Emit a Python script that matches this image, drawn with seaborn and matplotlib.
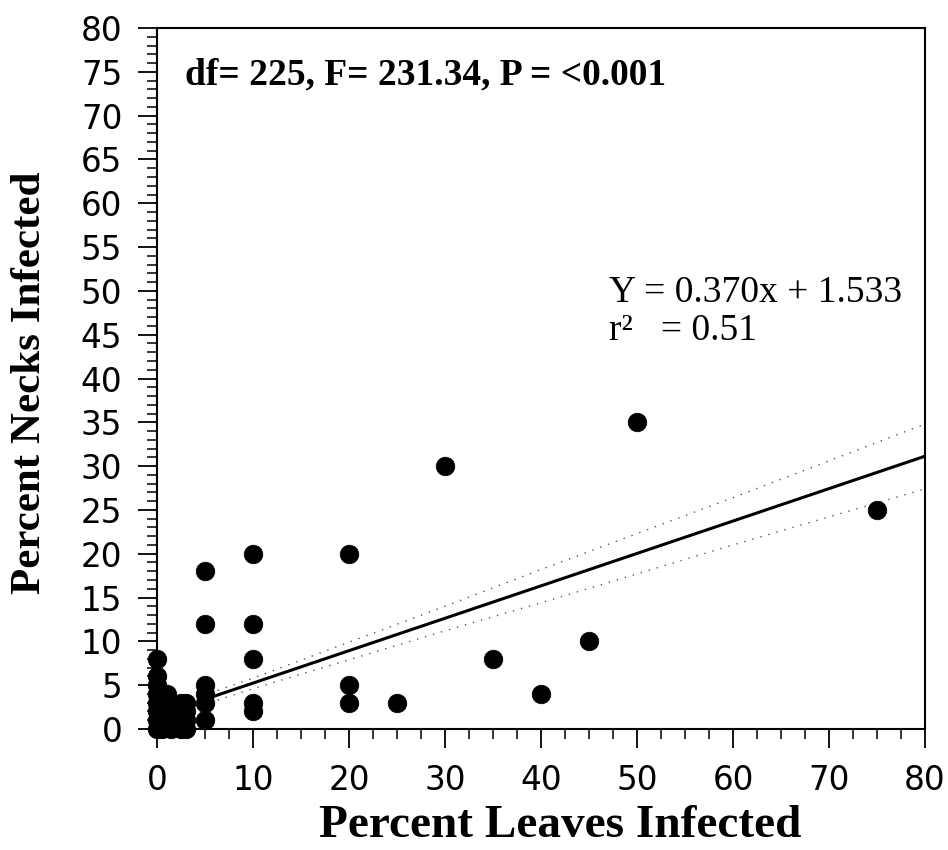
import matplotlib
matplotlib.use("Agg")
import matplotlib.pyplot as plt
import seaborn as sns
import pandas as pd
from matplotlib.ticker import MultipleLocator

# ---- data ----
leaves = [0, 0, 0, 0, 0, 0, 0, 0,
          0.5, 0.5, 0.5, 0.5, 0.5,
          1, 1, 1, 1,
          1.5, 1.5, 1.5, 1.5,
          2, 2,
          2.5, 2.5, 2.5, 2.5,
          3, 3, 3, 3,
          5, 5, 5, 5, 5, 5,
          10, 10, 10, 10, 10,
          20, 20, 20,
          25, 30, 35, 40, 45, 50, 75]
necks = [0, 1, 2, 3, 4, 5, 6, 8,
         0, 1, 2, 3, 4,
         1, 2, 3, 4,
         0, 1, 2, 3,
         1, 2,
         0, 1, 2, 3,
         0, 1, 2, 3,
         1, 3, 4, 5, 12, 18,
         2, 3, 8, 12, 20,
         3, 5, 20,
         3, 30, 8, 4, 10, 35, 25]

fit_x = [5.5, 80]
fit_y = [3.57, 31.13]

band_x = [5.5, 10, 20, 30, 40, 50, 60, 70, 80]
band_upper = [4.1, 5.8, 9.9, 14.0, 18.2, 22.3, 26.4, 30.6, 34.8]
band_lower = [3.0, 4.6, 7.9, 11.2, 14.4, 17.7, 21.0, 24.2, 27.4]

x_ticks = [0, 10, 20, 30, 40, 50, 60, 70, 80]
y_ticks = [0, 5, 10, 15, 20, 25, 30, 35, 40, 45, 50, 55, 60, 65, 70, 75, 80]

stats_text = "df= 225, F= 231.34, P = <0.001"
eq_line1 = "Y = 0.370x + 1.533"
eq_line2 = "r\u00b2   = 0.51"

sns.set_theme(style="ticks")
plt.rcParams['font.family'] = ['DejaVu Sans']
plt.rcParams['text.color'] = 'black'
plt.rcParams['axes.labelcolor'] = 'black'

df = pd.DataFrame({"leaves": leaves, "necks": necks})
fit = pd.DataFrame({"x": fit_x, "y": fit_y})
bands = pd.DataFrame({"x": band_x, "up": band_upper, "lo": band_lower})

fig = plt.figure(figsize=(9.48, 8.5), dpi=100)
ax = fig.add_axes([0.1656, 0.1424, 0.8101, 0.8246])

sns.lineplot(data=bands, x="x", y="up", ax=ax, color="#555555", lw=1.0,
             linestyle=(0, (1, 5)))
sns.lineplot(data=bands, x="x", y="lo", ax=ax, color="#555555", lw=1.0,
             linestyle=(0, (1, 5)))
sns.lineplot(data=fit, x="x", y="y", ax=ax, color="black", lw=2.2)
sns.scatterplot(data=df, x="leaves", y="necks", ax=ax, color="black",
                s=180, edgecolor="black", linewidth=0.5, zorder=5, clip_on=False)

ax.set_xlim(0, 80)
ax.set_ylim(0, 80)
ax.set_xticks(x_ticks)
ax.set_yticks(y_ticks)
ax.xaxis.set_minor_locator(MultipleLocator(2.5))
ax.yaxis.set_minor_locator(MultipleLocator(1))
ax.tick_params(axis="both", which="major", direction="out", length=14,
               width=1.3, labelsize=23.5, pad=11, color="black", labelcolor="black")
ax.tick_params(axis="both", which="minor", direction="out", length=7,
               width=1.1, color="black")
for sp in ax.spines.values():
    sp.set_visible(True)
    sp.set_linewidth(1.5)
    sp.set_color("black")

ax.set_xlabel("Percent Leaves Infected", family="Liberation Serif",
              fontweight="bold", fontsize=34)
ax.set_ylabel("Percent Necks Infected", family="Liberation Serif",
              fontweight="bold", fontsize=31)
ax.xaxis.set_label_coords(0.525, -0.108)
ax.yaxis.set_label_coords(-0.166, 0.494)
ax.xaxis.label.set_va("top")
ax.yaxis.label.set_va("center")

ax.text(2.9, 74.7, stats_text, family="Liberation Serif", fontweight="bold",
        fontsize=27, ha="left", va="center", color="black")
ax.text(47.1, 49.8, eq_line1, family="Liberation Serif", fontsize=27,
        ha="left", va="center", color="black")
ax.text(47.1, 45.5, eq_line2, family="Liberation Serif", fontsize=27,
        ha="left", va="center", color="black")

fig.savefig("out.png", dpi=100, facecolor="white")
